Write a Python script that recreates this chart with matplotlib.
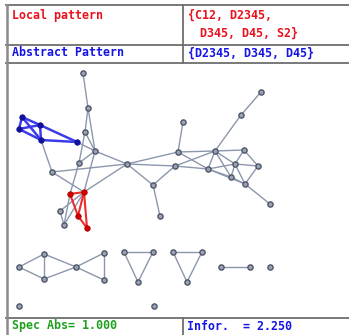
import matplotlib
matplotlib.use("Agg")
import matplotlib.pyplot as plt

# header / footer strings
local_label = "Local pattern"
local_value = ["{C12, D2345,", "D345, D45, S2}"]
abstract_label = "Abstract Pattern"
abstract_value = "{D2345, D345, D45}"
spec_text = "Spec Abs= 1.000"
info_text = "Infor.  = 2.250"

# node layout (pixel space of the graph panel)
node_x = [83, 88, 85, 95, 79, 52, 127, 175, 153, 160,
          183, 178, 215, 244, 208, 235, 258, 231, 245, 270, 241, 261,
          60, 64,
          19, 44, 44, 76, 104, 104,
          124, 153, 138, 173, 202, 187,
          221, 250, 270, 19, 154]
node_y = [73, 108, 132, 151, 163, 172, 164, 166, 185, 216,
          122, 152, 151, 150, 169, 164, 166, 177, 184, 204, 115, 92,
          211, 225,
          267, 254, 279, 267, 253, 280,
          252, 252, 282, 252, 252, 282,
          267, 267, 267, 306, 306]

grey_edges = [(0, 1), (1, 2), (1, 3), (2, 3), (2, 4), (3, 4), (3, 6), (5, 6),
              (6, 11), (6, 7), (6, 8), (8, 7), (8, 9), (10, 11), (11, 12), (11, 14),
              (7, 12), (7, 14), (12, 13), (12, 14), (12, 15), (12, 17), (12, 20),
              (20, 21), (13, 15), (13, 16), (14, 15), (14, 17), (14, 18), (15, 16),
              (15, 17), (15, 18), (16, 18), (17, 18), (18, 19), (22, 23),
              (24, 25), (24, 26), (25, 26), (25, 27), (26, 27), (27, 28), (27, 29),
              (28, 29), (30, 31), (30, 32), (31, 32), (33, 34), (33, 35), (34, 35),
              (36, 37)]

# blue motif
blue_x = [22, 19, 40, 41, 77]
blue_y = [117, 129, 125, 140, 142]
blue_edges = [(0, 1), (0, 2), (0, 3), (1, 2), (1, 3), (2, 3), (2, 4), (3, 4)]

# red motif
red_x = [70, 84, 78, 87]
red_y = [194, 192, 216, 228]
red_edges = [(0, 1), (0, 2), (1, 2), (1, 3), (2, 3)]

# links between motifs and the rest of the graph: (kind, index, kind, index)
cross_edges = [("b", 4, "g", 3), ("b", 3, "g", 5), ("r", 1, "g", 5), ("r", 1, "g", 6),
               ("r", 0, "g", 4), ("r", 1, "g", 3), ("r", 1, "g", 22), ("r", 1, "g", 23),
               ("r", 0, "g", 23)]

W, H = 349, 335
fig = plt.figure(figsize=(W / 100, H / 100), dpi=100)
ax = fig.add_axes([0, 0, 1, 1])
ax.set_xlim(0, W)
ax.set_ylim(H, 0)
ax.axis("off")

edge_c = "#8c97ad"
node_face = "#9aa3b3"
node_edge = "#4d5568"


def pos(kind, i):
    if kind == "b":
        return blue_x[i], blue_y[i]
    if kind == "r":
        return red_x[i], red_y[i]
    return node_x[i], node_y[i]


for a, b in grey_edges:
    ax.plot([node_x[a], node_x[b]], [node_y[a], node_y[b]], color=edge_c, lw=1.0, zorder=1)
for ka, ia, kb, ib in cross_edges:
    xa, ya = pos(ka, ia)
    xb, yb = pos(kb, ib)
    ax.plot([xa, xb], [ya, yb], color=edge_c, lw=1.0, zorder=1)
for a, b in blue_edges:
    ax.plot([blue_x[a], blue_x[b]], [blue_y[a], blue_y[b]], color="#3b3bea", lw=1.8, zorder=2)
for a, b in red_edges:
    ax.plot([red_x[a], red_x[b]], [red_y[a], red_y[b]], color="#ee2a2a", lw=1.5, zorder=2)

ax.scatter(node_x, node_y, s=14, c=node_face, edgecolors=node_edge, linewidths=1.0, zorder=3)
ax.scatter(blue_x, blue_y, s=16, c="#10109a", edgecolors="#10109a", linewidths=0.5, zorder=4)
ax.scatter(red_x, red_y, s=16, c="#cc0000", edgecolors="#aa0000", linewidths=0.5, zorder=4)

# table frame
frame_c = "#6e6e6e"
for y in (5, 45, 63, 318):
    ax.plot([6, W], [y, y], color=frame_c, lw=1.3, zorder=0)
ax.plot([6.5, 6.5], [5, H], color="#8a8a8a", lw=1.8, zorder=0)
ax.plot([183, 183], [5, 63], color=frame_c, lw=1.3, zorder=0)
ax.plot([183, 183], [318, H], color=frame_c, lw=1.3, zorder=0)

font = dict(family="DejaVu Sans Mono", fontsize=8.4, fontweight="bold", va="center", ha="left")
red_c, blue_c, green_c = "#e8121e", "#1414e6", "#1fa11f"
ax.text(12, 15, local_label, color=red_c, **font)
ax.text(188, 15, local_value[0], color=red_c, **font)
ax.text(200, 33, local_value[1], color=red_c, **font)
ax.text(12, 53, abstract_label, color=blue_c, **font)
ax.text(188, 53, abstract_value, color=blue_c, **font)
ax.text(12, 326, spec_text, color=green_c, **font)
ax.text(187, 326, info_text, color=blue_c, **font)

fig.savefig("out.png", dpi=100)
